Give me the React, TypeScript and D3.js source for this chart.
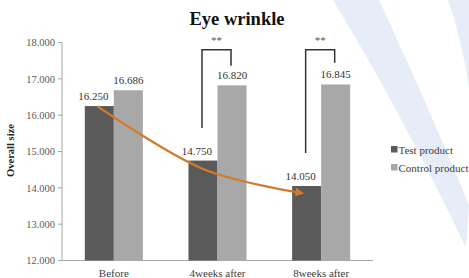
import { useMemo } from 'react';
import { scaleBand, scaleLinear, line as d3line, curveCatmullRom } from 'd3';

const CATEGORIES = ['Before', '4weeks after', '8weeks after'];
const SERIES = ['Test product', 'Control product'];
const TEST_VALUES = [16.25, 14.75, 14.05];
const CONTROL_VALUES = [16.686, 16.82, 16.845];
const Y_TICKS = [12, 13, 14, 15, 16, 17, 18];
// significance brackets: [category, top, left-leg end, right-leg end] in value units
const SIG_CATS = ['4weeks after', '8weeks after'];
const SIG_TOP = [17.8, 17.8];
const SIG_LEFT_END = [15.65, 14.96];
const SIG_RIGHT_END = [17.36, 17.44];
// trend arrow, passes through the test bars
const ARROW_VALUES = [16.25, 14.52, 13.86];

const W = 469;
const H = 278;
const M = { top: 42.5, right: 96, bottom: 17.5, left: 62 };
const IW = W - M.left - M.right;
const IH = H - M.top - M.bottom;
const COLORS = ['#5a5a5a', '#a8a8a8'];
const FONT = '"Liberation Serif", "Times New Roman", serif';

export default function App() {
  const x = useMemo(
    () => scaleBand<string>().domain(CATEGORIES).range([0, IW]).paddingInner(0.44).paddingOuter(0.22),
    []
  );
  const xs = useMemo(() => scaleBand<string>().domain(SERIES).range([0, x.bandwidth()]), [x]);
  const y = useMemo(() => scaleLinear().domain([12, 18]).range([IH, 0]), []);

  const bw = xs.bandwidth();
  const arrowPts: [number, number][] = CATEGORIES.map((c, i) => {
    const cx = (x(c) ?? 0) + (xs('Test product') ?? 0) + bw / 2;
    const shift = i === 0 ? -2 : i === 2 ? -6 : 0;
    return [cx + shift, y(ARROW_VALUES[i])];
  });
  const arrowPath = d3line().curve(curveCatmullRom.alpha(0.5))(arrowPts) ?? '';

  return (
    <div style={{ position: 'absolute', left: 0, top: 0, width: W, height: H, background: '#fff' }}>
      <svg width={W} height={H} style={{ display: 'block' }}>
        <defs>
          <marker id="ah" viewBox="0 0 10 10" refX="6" refY="5" markerWidth="4" markerHeight="4" orient="auto">
            <path d="M0,0 L10,5 L0,10 z" fill="#d27b2c" />
          </marker>
        </defs>
        {/* faint watermark strokes */}
        <path d="M333,0 L379,0 Q430,110 469,205 L466,248 Q400,110 333,0 Z" fill="#e7edf8" />
        <path d="M448,0 L469,0 L469,88 Q462,40 448,0 Z" fill="#e7edf8" />

        <text x={237} y={25} textAnchor="middle" fontFamily={FONT} fontWeight="bold" fontSize={18.5} fill="#111">
          Eye wrinkle
        </text>

        <g transform={`translate(${M.left},${M.top})`}>
          {/* y axis */}
          <line x1={0} x2={0} y1={0} y2={IH} stroke="#a6a6a6" strokeWidth={1} />
          {Y_TICKS.map((t) => (
            <g key={t} transform={`translate(0,${y(t)})`}>
              <line x1={-4} x2={0} stroke="#a6a6a6" />
              <text x={-7} dy="0.35em" textAnchor="end" fontFamily={FONT} fontSize={10.5} fill="#595959">
                {t.toFixed(3)}
              </text>
            </g>
          ))}
          <line x1={0} x2={IW} y1={IH} y2={IH} stroke="#a6a6a6" strokeWidth={1} />

          {/* bars */}
          {CATEGORIES.map((c, i) => (
            <g key={c} transform={`translate(${x(c)},0)`}>
              {[TEST_VALUES[i], CONTROL_VALUES[i]].map((v, j) => (
                <rect
                  key={j}
                  x={xs(SERIES[j])}
                  y={y(v)}
                  width={bw}
                  height={IH - y(v)}
                  fill={COLORS[j]}
                />
              ))}
              {[TEST_VALUES[i], CONTROL_VALUES[i]].map((v, j) => (
                <text
                  key={'l' + j}
                  x={(xs(SERIES[j]) ?? 0) + bw / 2 + (j === 0 ? -6 : 0)}
                  y={y(v) - 6}
                  textAnchor="middle"
                  fontFamily={FONT}
                  fontSize={11}
                  fill="#333"
                >
                  {v.toFixed(3)}
                </text>
              ))}
              <text
                x={x.bandwidth() / 2}
                y={IH + 16}
                textAnchor="middle"
                fontFamily={FONT}
                fontSize={11}
                fill="#404040"
              >
                {c}
              </text>
            </g>
          ))}

          {/* significance brackets */}
          {SIG_CATS.map((c, i) => {
            const x0 = (x(c) ?? 0) + (xs('Test product') ?? 0) + bw / 2 - 1;
            const x1 = (x(c) ?? 0) + (xs('Control product') ?? 0) + bw / 2 - 1;
            return (
              <g key={c}>
                <path
                  d={`M${x0},${y(SIG_LEFT_END[i])}V${y(SIG_TOP[i])}H${x1}V${y(SIG_RIGHT_END[i])}`}
                  fill="none"
                  stroke="#333"
                  strokeWidth={1.5}
                />
                <text
                  x={(x0 + x1) / 2}
                  y={y(SIG_TOP[i]) - 6}
                  textAnchor="middle"
                  fontFamily={FONT}
                  fontSize={11}
                  fill="#555"
                >
                  **
                </text>
              </g>
            );
          })}

          {/* trend arrow */}
          <path d={arrowPath} fill="none" stroke="#d27b2c" strokeWidth={2.2} markerEnd="url(#ah)" />

          <text
            transform={`translate(${-48},${IH / 2 - 1}) rotate(-90)`}
            textAnchor="middle"
            fontFamily={FONT}
            fontWeight="bold"
            fontSize={10.5}
            fill="#222"
          >
            Overall size
          </text>
        </g>

        {/* legend */}
        {SERIES.map((s, i) => (
          <g key={s} transform={`translate(391,${150 + i * 18})`}>
            <rect x={0} y={-4} width={6.5} height={6.5} fill={COLORS[i]} />
            <text x={7.5} dy="0.35em" fontFamily={FONT} fontSize={11} fill="#404040">
              {s}
            </text>
          </g>
        ))}
      </svg>
    </div>
  );
}
